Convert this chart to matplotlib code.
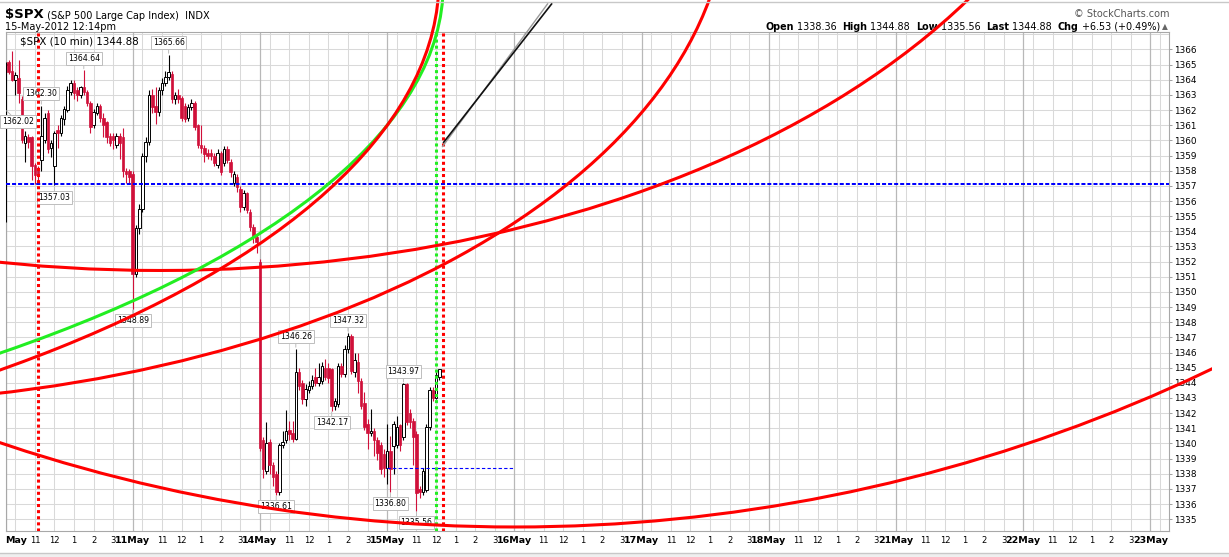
import matplotlib
matplotlib.use("Agg")
import matplotlib.pyplot as plt
import numpy as np
from matplotlib.patches import Ellipse, Rectangle
from matplotlib.transforms import Bbox, TransformedBbox
from matplotlib.lines import Line2D

plt.rcParams['font.family'] = ['DejaVu Sans']

# ---------------- data ----------------
day_names = ['10May', '11May', '14May', '15May', '16May', '17May', '18May', '21May', '22May', '23May']
hour_clock = [11, 12, 13, 14, 15]          # labelled hours
grid_clock = [10, 11, 12, 13, 14, 15]      # hourly grid lines
bars_per_day = [39, 39, 39, 17]            # 10-min bars of 10, 11, 14, 15 May

opens = [
    # 10 May
    1365.0, 1365.2, 1364.6, 1364.0, 1364.1, 1362.7, 1359.8, 1360.2, 1360.2, 1358.4,
    1358.2, 1358.7, 1360.0, 1361.8, 1359.5, 1358.3, 1360.7, 1360.5, 1361.4, 1362.0,
    1363.2, 1363.8, 1363.3, 1363.0, 1363.5, 1363.2, 1362.5, 1361.0, 1361.8, 1362.3,
    1361.5, 1361.2, 1360.3, 1360.3, 1359.7, 1360.3, 1360.2, 1358.0, 1358.0,
    # 11 May
    1357.8, 1351.2, 1354.2, 1355.5, 1359.0, 1359.9, 1363.0, 1362.3, 1361.9, 1363.3,
    1363.8, 1364.2, 1364.4, 1362.7, 1363.0, 1362.8, 1362.3, 1361.5, 1362.2, 1362.5,
    1361.0, 1359.7, 1359.5, 1359.2, 1359.2, 1359.0, 1358.4, 1359.2, 1358.5, 1359.4,
    1358.6, 1357.2, 1357.6, 1356.8, 1355.6, 1356.5, 1355.3, 1354.3, 1353.6,
    # 14 May
    1352.0, 1340.2, 1338.2, 1340.1, 1338.6, 1338.0, 1336.8, 1339.9, 1340.2, 1340.9,
    1340.7, 1340.3, 1344.7, 1344.0, 1342.9, 1343.5, 1343.8, 1344.4, 1344.0, 1344.1,
    1345.0, 1345.0, 1344.9, 1342.5, 1342.6, 1345.1, 1344.6, 1346.2, 1347.1, 1344.7,
    1345.4, 1344.1, 1342.7, 1341.3, 1340.7, 1340.8, 1340.2, 1339.9, 1339.3,
    # 15 May
    1338.36, 1339.5, 1339.8, 1339.9, 1341.2, 1340.4, 1343.9, 1342.0, 1341.5, 1340.6,
    1337.0, 1336.8, 1336.9, 1341.1, 1343.5, 1343.0, 1344.4,
]
highs = [
    1365.2, 1365.3, 1365.9, 1364.5, 1365.3, 1362.9, 1360.6, 1360.4, 1360.3, 1358.5,
    1358.3, 1362.30, 1361.8, 1362.0, 1360.0, 1360.6, 1361.0, 1361.7, 1362.3, 1363.6,
    1364.0, 1364.0, 1363.5, 1363.6, 1364.64, 1363.3, 1362.6, 1362.1, 1362.5, 1362.4,
    1361.8, 1361.3, 1360.5, 1360.5, 1360.5, 1360.5, 1360.8, 1358.2, 1358.1,
    1358.0, 1354.4, 1355.8, 1359.2, 1360.2, 1363.3, 1363.4, 1363.5, 1363.5, 1364.1,
    1364.6, 1365.66, 1364.6, 1363.2, 1363.4, 1362.9, 1362.5, 1362.4, 1362.7, 1362.6,
    1361.1, 1361.0, 1359.7, 1359.4, 1359.4, 1359.2, 1359.4, 1359.3, 1359.6, 1359.6,
    1358.8, 1358.0, 1357.8, 1357.0, 1356.7, 1356.6, 1355.5, 1354.5, 1353.8,
    1352.2, 1340.4, 1341.4, 1340.3, 1338.8, 1338.2, 1340.0, 1340.8, 1342.2, 1341.5,
    1341.5, 1346.26, 1345.0, 1344.2, 1343.9, 1344.1, 1344.5, 1345.0, 1345.3, 1345.4,
    1345.6, 1345.3, 1345.0, 1343.0, 1345.3, 1345.3, 1346.5, 1347.32, 1347.2, 1346.0,
    1346.0, 1344.3, 1343.4, 1341.6, 1342.3, 1341.0, 1340.4, 1340.1, 1339.6,
    1341.3, 1340.5, 1341.5, 1341.8, 1341.3, 1343.97, 1344.0, 1342.3, 1341.7, 1340.8,
    1337.2, 1338.4, 1341.3, 1343.7, 1343.7, 1344.7, 1344.88,
]
lows = [
    1354.6, 1364.4, 1363.9, 1363.0, 1362.5, 1359.8, 1358.6, 1359.5, 1357.4, 1357.1,
    1357.2, 1358.0, 1359.8, 1359.2, 1358.9, 1357.03, 1359.5, 1360.3, 1361.0, 1361.9,
    1363.0, 1362.7, 1362.6, 1362.8, 1363.0, 1362.3, 1360.5, 1360.8, 1361.7, 1361.2,
    1360.2, 1359.8, 1359.6, 1359.4, 1359.5, 1358.8, 1357.6, 1357.2, 1357.1,
    1348.89, 1351.0, 1353.8, 1355.3, 1358.6, 1359.7, 1361.8, 1361.1, 1361.6, 1363.0,
    1363.6, 1364.0, 1362.5, 1362.4, 1362.5, 1361.3, 1361.2, 1361.3, 1362.0, 1360.7,
    1359.5, 1359.2, 1358.6, 1358.8, 1358.7, 1358.3, 1358.2, 1357.7, 1358.3, 1358.5,
    1357.6, 1357.0, 1356.6, 1355.3, 1355.4, 1355.2, 1354.0, 1353.2, 1352.6,
    1339.5, 1337.7, 1338.0, 1338.0, 1337.2, 1336.61, 1336.6, 1339.7, 1340.0, 1340.2,
    1340.1, 1340.2, 1343.5, 1342.6, 1342.5, 1343.3, 1343.6, 1343.8, 1343.8, 1343.9,
    1344.2, 1344.0, 1342.17, 1342.2, 1342.4, 1344.4, 1344.4, 1346.0, 1344.6, 1344.4,
    1343.3, 1342.3, 1340.9, 1339.6, 1340.5, 1339.2, 1338.9, 1338.0, 1337.8,
    1337.3, 1336.80, 1338.0, 1339.7, 1339.5, 1340.2, 1341.2, 1341.0, 1338.6, 1335.56,
    1336.4, 1336.6, 1336.8, 1340.9, 1342.8, 1342.9, 1344.2,
]
closes = [
    1365.0, 1364.5, 1364.0, 1364.3, 1363.1, 1360.0, 1360.3, 1359.9, 1358.3, 1357.7,
    1357.7, 1360.3, 1361.5, 1359.4, 1359.8, 1360.5, 1360.5, 1361.5, 1362.1, 1363.3,
    1363.8, 1363.1, 1363.0, 1363.5, 1363.2, 1362.5, 1360.9, 1361.9, 1362.3, 1361.5,
    1361.0, 1360.2, 1359.8, 1360.0, 1360.3, 1359.8, 1358.0, 1357.8, 1357.6,
    1351.2, 1354.2, 1355.5, 1359.0, 1359.9, 1363.0, 1362.2, 1361.9, 1363.3, 1363.8,
    1364.2, 1364.5, 1362.7, 1363.0, 1362.7, 1361.5, 1361.4, 1362.2, 1362.5, 1360.9,
    1359.7, 1359.5, 1359.1, 1359.0, 1359.0, 1358.5, 1359.2, 1357.9, 1359.4, 1358.7,
    1357.9, 1357.8, 1356.9, 1355.6, 1356.5, 1355.4, 1354.3, 1353.6, 1353.3,
    1339.7, 1338.3, 1340.0, 1338.6, 1337.8, 1336.8, 1339.9, 1340.1, 1340.8, 1340.6,
    1340.3, 1344.7, 1343.8, 1342.9, 1343.6, 1343.8, 1344.2, 1344.0, 1344.4, 1345.1,
    1344.4, 1344.3, 1342.5, 1342.8, 1345.1, 1344.6, 1346.2, 1347.1, 1344.8, 1345.5,
    1344.1, 1342.5, 1341.1, 1340.7, 1340.8, 1340.2, 1339.4, 1338.3, 1338.35,
    1339.5, 1338.3, 1341.3, 1341.1, 1339.9, 1343.9, 1341.4, 1341.4, 1340.4, 1336.7,
    1336.8, 1338.2, 1341.1, 1343.5, 1343.0, 1344.5, 1344.88,
]

# swing labels: (day index, bar index in day, value, kind)
swing_labels = [
    (0, 0, 1362.02, 'low'), (0, 11, 1362.30, 'high'), (0, 15, 1357.03, 'low'),
    (0, 24, 1364.64, 'high'), (1, 0, 1348.89, 'low'), (1, 11, 1365.66, 'high'),
    (2, 5, 1336.61, 'low'), (2, 11, 1346.26, 'high'), (2, 22, 1342.17, 'low'),
    (2, 27, 1347.32, 'high'), (3, 1, 1336.80, 'low'), (3, 5, 1343.97, 'high'),
    (3, 9, 1335.56, 'low'),
]

# drawn annotations (time in trading hours from 10 May open, price)
arc_center_t = [26.03, -10.00, 7.895, -54.29, -44.28]
arc_center_p = [1441.15, 1375.91, 1389.70, 1370.27, 1370.60]
arc_width_t = [165.15, 93.79, 97.60, 153.31, 132.86]
arc_height_p = [213.33, 66.63, 76.57, 68.51, 68.75]
arc_colors = ['#ff0000', '#ff0000', '#ff0000', '#22ee22', '#ff0000']

red_vlines_t = [1.667, 22.333]
green_vlines_t = [22.0]
blue_level = 1357.10
open_level = 1338.36
open_level_t = [19.5, 26.0]
trend_black_t = [22.36, 27.93]
trend_black_p = [1359.83, 1369.05]
trend_gray_t = [22.31, 27.72]
trend_gray_p = [1359.56, 1369.05]

SESSION = 6.5
BARS_PER_HOUR = 6
OPEN_CLOCK = 9.5
X_MAX = 59.45

# ---------------- figure ----------------
W, H = 1229, 557
fig = plt.figure(figsize=(W / 100, H / 100), dpi=100)
fig.patch.set_facecolor('white')
ax = fig.add_axes([5.5 / W, 26 / H, 1163.5 / W, 498.7 / H])

def fx(x):
    return x / W

def fy(y):
    return 1 - y / H

# grid
for p in range(1335, 1368):
    ax.axhline(p, color='#d9d9d9', lw=0.75, zorder=0.5)
for d in range(len(day_names)):
    for c in grid_clock:
        ax.axvline(d * SESSION + c - OPEN_CLOCK, color='#d9d9d9', lw=0.75, zorder=0.5)
    ax.axvline(d * SESSION, color='#b8b8b8', lw=0.9, zorder=0.6)

# candles
t = []
for d, n in enumerate(bars_per_day):
    for i in range(n):
        t.append(d * SESSION + i / BARS_PER_HOUR)
t = np.array(t)
o = np.array(opens); h = np.array(highs); l = np.array(lows); c = np.array(closes)
up = c >= o
RED = '#d0103a'
wick_colors = ['black' if u else RED for u in up]
ax.vlines(t, l, h, colors=wick_colors, lw=0.8, zorder=2.9)
bottoms = np.minimum(o, c)
heights = np.maximum(np.abs(c - o), 0.04)
ax.bar(t[up], heights[up], bottom=bottoms[up], width=0.13, facecolor='white',
       edgecolor='black', linewidth=0.7, zorder=3)
ax.bar(t[~up], heights[~up], bottom=bottoms[~up], width=0.13, facecolor=RED,
       edgecolor=RED, linewidth=0.5, zorder=3)

# swing labels
day_start_idx = np.cumsum([0] + bars_per_day[:-1])
for d, i, v, kind in swing_labels:
    tt = t[day_start_idx[d] + i]
    off = 8.6 if kind == 'high' else -8.6
    near_edge = tt < 0.3
    ax.annotate(f'{v:.2f}', xy=(tt, v), xytext=(-2.5 if near_edge else 0, off),
                textcoords='offset points',
                ha='left' if near_edge else 'center', va='center', fontsize=5.6,
                zorder=4, annotation_clip=False,
                bbox=dict(boxstyle='square,pad=0.25', fc='white', ec='#bdbdbd', lw=0.7),
                arrowprops=dict(arrowstyle='-', color='#bdbdbd', lw=0.7, shrinkA=0, shrinkB=1))

# horizontal levels
ax.axhline(blue_level, color='#0000ff', lw=1.45, ls=(0, (2, 1)), zorder=5)
ax.plot(open_level_t, [open_level, open_level], color='#0000ff', lw=0.8,
        ls=(0, (3, 2)), zorder=5)

# vertical dotted markers
for tv in green_vlines_t:
    ax.axvline(tv, color='#22ee22', lw=2.2, ls=(0, (1, 1)), zorder=5)
for tv in red_vlines_t:
    ax.axvline(tv, color='#ff0000', lw=2.2, ls=(0, (1, 1)), zorder=5)

# arcs, clipped to the figure area above the axis bottom
clip_bb = TransformedBbox(Bbox([[0, 26 / H], [1212 / W, 1]]), fig.transFigure)
for ct, cp, wt, hp, col in zip(arc_center_t, arc_center_p, arc_width_t, arc_height_p, arc_colors):
    e = Ellipse((ct, cp), wt, hp, fill=False, edgecolor=col, lw=2.2, zorder=6)
    ax.add_patch(e)
    e.set_clip_path(None)
    e.set_clip_box(clip_bb)
    e.set_clip_on(True)

for tt, pp, col, lw in [(trend_gray_t, trend_gray_p, '#9a9a9a', 1.0),
                        (trend_black_t, trend_black_p, '#111111', 1.2)]:
    ln, = ax.plot(tt, pp, color=col, lw=lw, zorder=6, solid_capstyle='butt')
    ln.set_clip_path(None)
    ln.set_clip_box(clip_bb)
    ln.set_clip_on(True)

# axes styling
for s in ax.spines.values():
    s.set_color('#a8a8a8')
    s.set_linewidth(0.8)
ax.yaxis.tick_right()
ax.set_yticks(range(1335, 1367))
ax.tick_params(axis='y', length=2.2, width=0.6, color='#909090', pad=1.2, labelsize=6.4)

xt, xl, bold = [], [], []
for d, name in enumerate(day_names):
    # the first day label is cut by the left edge in the original: only "May" shows
    shown = name if d > 0 else name[-3:]
    ticks_d = [(d * SESSION, shown, True)] + [
        (d * SESSION + hc - OPEN_CLOCK, str(hc if hc <= 12 else hc - 12), False)
        for hc in hour_clock]
    for pos, lab, b in ticks_d:
        if pos <= X_MAX:
            xt.append(pos); xl.append(lab); bold.append(b)
ax.set_xticks(xt)
ax.set_xticklabels(xl)
ax.tick_params(axis='x', length=0, pad=3.6, labelsize=6.0)
labs = ax.get_xticklabels()
for lab, b in zip(labs, bold):
    if b:
        lab.set_fontweight('bold')
        lab.set_fontsize(6.8)
labs[0].set_horizontalalignment('left')

ax.set_xlim(0, X_MAX)
ax.set_ylim(1334.22, 1367.135)

# header texts
t1 = fig.text(fx(5), fy(18), r'\$SPX', fontsize=9.5, fontweight='bold', va='baseline')
ax.annotate(' (S&P 500 Large Cap Index)  INDX', xy=(1, 0), xycoords=t1, ha='left',
            va='bottom', fontsize=7.0, annotation_clip=False)
fig.text(fx(5), fy(30.5), '15-May-2012 12:14pm', fontsize=7.0, va='baseline')
fig.text(fx(20), fy(44), rf'\$SPX (10 min) {closes[-1]:.2f}', fontsize=7.4, va='baseline')

fig.text(fx(1169), fy(17), '© StockCharts.com', fontsize=7.0, color='#555555',
         ha='right', va='baseline')

day_open = opens[day_start_idx[3]]
day_high = max(highs[day_start_idx[3]:])
day_low = min(lows[day_start_idx[3]:])
last = closes[-1]
prev_close = closes[day_start_idx[3] - 1]
chg = last - prev_close
pieces = [('Open', 'bold'), (f' {day_open:.2f}  ', 'normal'),
          ('High', 'bold'), (f' {day_high:.2f}  ', 'normal'),
          ('Low', 'bold'), (f' {day_low:.2f}  ', 'normal'),
          ('Last', 'bold'), (f' {last:.2f}  ', 'normal'),
          ('Chg', 'bold'), (f' {chg:+.2f} ({chg / prev_close * 100:+.2f}%)', 'normal')]
prev = fig.text(fx(1160), fy(29.5), pieces[-1][0], fontsize=6.9, fontweight=pieces[-1][1],
                ha='right', va='baseline')
for txt, wgt in reversed(pieces[:-1]):
    prev = ax.annotate(txt, xy=(0, 0), xycoords=prev, ha='right', va='bottom',
                       fontsize=6.9, fontweight=wgt, annotation_clip=False)
fig.text(fx(1162), fy(29.5), '▲', fontsize=5.5, color='#666666', ha='left', va='baseline')

# frame lines of the page
fig.add_artist(Line2D([0, 1], [fy(1.5), fy(1.5)], transform=fig.transFigure,
                      color='#c8c8c8', lw=1.0))
fig.add_artist(Rectangle((0, 0), 1, fy(553), transform=fig.transFigure,
                         facecolor='#efefef', edgecolor='none'))
fig.add_artist(Line2D([0, 1], [fy(553), fy(553)], transform=fig.transFigure,
                      color='#c8c8c8', lw=1.0))

fig.savefig('out.png', dpi=100)
